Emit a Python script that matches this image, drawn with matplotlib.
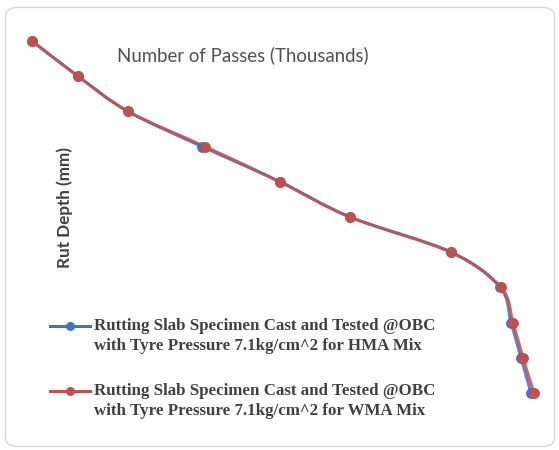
import matplotlib
matplotlib.use("Agg")
import matplotlib.pyplot as plt
import numpy as np
from matplotlib.path import Path
from matplotlib.patches import PathPatch, FancyBboxPatch
from matplotlib.lines import Line2D

# Number of passes (thousands) and rut depth (mm) for both mixes
passes = [0, 1, 2, 3, 4, 5, 6, 7, 8, 9, 10]
rut_hma = [0.0, 0.92, 1.92, 3.40, 4.96, 6.36, 8.38, 9.36, 9.58, 9.78, 9.98]
rut_wma = [0.0, 0.92, 1.92, 3.46, 4.96, 6.36, 8.38, 9.38, 9.62, 9.82, 10.04]

label_hma = "Rutting Slab Specimen Cast and Tested @OBC\nwith Tyre Pressure 7.1kg/cm^2 for HMA Mix"
label_wma = "Rutting Slab Specimen Cast and Tested @OBC\nwith Tyre Pressure 7.1kg/cm^2 for WMA Mix"

BLUE = "#4472C4"
RED = "#C0504D"

W, H = 559, 450
fig = plt.figure(figsize=(W / 100, H / 100), dpi=100)
fig.patch.set_facecolor("white")

# rounded chart-area border
border = FancyBboxPatch((5.5 / W, 3.5 / H), 549 / W, 439 / H,
                        boxstyle="round,pad=0,rounding_size=0.02",
                        transform=fig.transFigure, fill=False,
                        edgecolor="#d9d9d9", linewidth=1.0)
fig.patches.append(border)

ax = fig.add_axes([0, 0, 1, 1])
ax.set_facecolor("none")
px_x, px_y = 50.0, 35.2
ax.set_xlim(-32 / px_x, (W - 32) / px_x)
ax.set_ylim((H - 41) / px_y, -41 / px_y)
ax.axis("off")


def smooth_path(x, y):
    """Cubic Bezier path through the points (Excel-style smoothed line)."""
    pts = np.column_stack([x, y]).astype(float)
    n = len(pts)
    verts = [pts[0]]
    codes = [Path.MOVETO]
    for i in range(n - 1):
        p0 = pts[i - 1] if i > 0 else pts[i]
        p1 = pts[i]
        p2 = pts[i + 1]
        p3 = pts[i + 2] if i + 2 < n else pts[i + 1]
        c1 = p1 + (p2 - p0) / 6.0
        c2 = p2 - (p3 - p1) / 6.0
        verts += [c1, c2, p2]
        codes += [Path.CURVE4] * 3
    return Path(verts, codes)


for xs, color in [(rut_hma, BLUE), (rut_wma, RED)]:
    ax.add_patch(PathPatch(smooth_path(xs, passes), fill=False,
                           edgecolor=color, linewidth=2.2, alpha=0.85,
                           capstyle="round", joinstyle="round"))
    ax.plot(xs, passes, linestyle="none", marker="o", markersize=6.8,
            color=color, clip_on=False)

# axis titles
fig.text(243 / W, 1 - 55 / H, "Number of Passes (Thousands)",
         ha="center", va="center", fontsize=13.4, family="Lato",
         color="#505050")
fig.text(65 / W, 1 - 207 / H, "Rut Depth (mm)", rotation=90,
         ha="center", va="center", fontsize=12.3, family="Lato",
         fontweight="bold", color="#404040")

# legend
for y_px, color, label in [(326, BLUE, label_hma), (391, RED, label_wma)]:
    yf = 1 - y_px / H
    fig.add_artist(Line2D([50 / W, 90 / W], [yf, yf], transform=fig.transFigure,
                          color=color, linewidth=2.2))
    fig.add_artist(Line2D([70 / W], [yf], transform=fig.transFigure,
                          color=color, marker="o", markersize=5.5))
    fig.text(94 / W, yf + 8 / H, label, ha="left", va="top",
             fontsize=12.2, family="Liberation Serif", fontweight="bold",
             color="#404040", linespacing=1.35)

fig.savefig("out.png", dpi=100, facecolor="white")
